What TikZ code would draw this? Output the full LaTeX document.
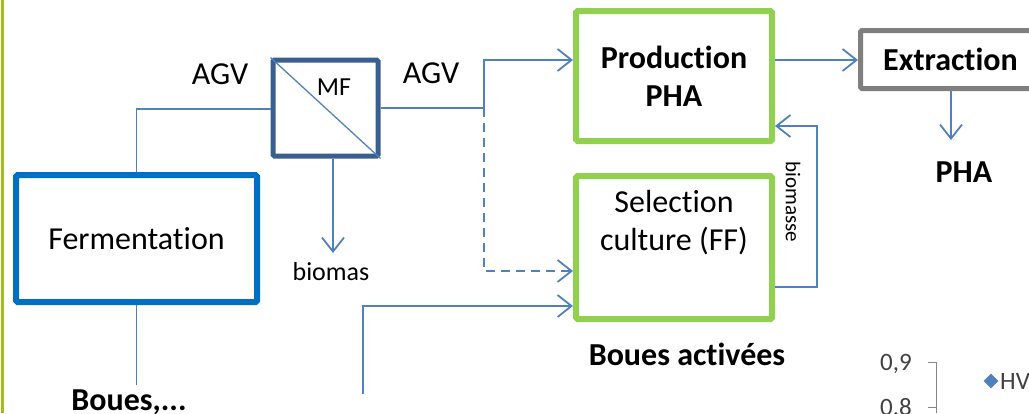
\documentclass[tikz,border=0pt]{standalone}
\usepackage{fontspec}
\setmainfont[RawFeature={-liga}]{Carlito}
\usetikzlibrary{arrows.meta,calc,shapes.geometric}
\definecolor{lineblue}{RGB}{79,129,189}
\definecolor{fermblue}{RGB}{0,112,192}
\definecolor{mfblue}{RGB}{58,94,142}
\definecolor{boxgreen}{RGB}{146,208,80}
\definecolor{boxgray}{RGB}{127,127,127}
\definecolor{barolive}{RGB}{160,190,25}
\definecolor{axisgray}{RGB}{134,134,134}
\definecolor{ticktext}{RGB}{64,64,64}
\tikzset{
  big/.style={font=\fontsize{32}{38}\selectfont},
  bigb/.style={font=\fontsize{32}{38}\selectfont\bfseries},
  small/.style={font=\fontsize{26}{30}\selectfont},
  conn/.style={draw=lineblue, line width=1.6pt},
  arr/.style={conn, -{Straight Barb[length=14pt,width=22pt,line width=1.8pt]}},
  txt/.style={inner sep=0pt, anchor=base},
  procbox/.style={draw, rectangle, rounded corners=1.5pt, inner sep=0pt},
}
\begin{document}
\begin{tikzpicture}[x=1pt,y=-1pt]
\useasboundingbox (0,0) rectangle (1029,413);
\clip (0,0) rectangle (1029,413);
% left bar
\fill[barolive] (0.5,0) rectangle (3.8,413);
% boxes
\node[procbox, draw=fermblue, line width=6pt, minimum width=241pt, minimum height=127pt, big] (ferm) at (136.5,238.5) {Fermentation};
\node[procbox, draw=mfblue, line width=5pt, minimum width=105pt, minimum height=96pt] (mf) at (325.5,108) {};
\draw[lineblue, line width=1.3pt] (mf.north west) -- (mf.south east);
\node[txt, small] (mflab) at (334,95) {MF};
\node[procbox, draw=boxgreen, line width=6pt, minimum width=196pt, minimum height=130pt, bigb, align=center] (prod) at (674,76) {Production\\PHA};
\node[procbox, draw=boxgreen, line width=6pt, minimum width=196pt, minimum height=143pt] (sel) at (674,247.5) {};
\node[txt, big, align=center, anchor=north] (seltext) at (674,190) {Selection\\culture (FF)};
\node[procbox, draw=boxgray, line width=5pt, minimum width=185pt, minimum height=58pt, bigb] (extr) at (953,59.5) {\hspace*{-5pt}Extraction};
% labels
\node[txt, big] (agv1) at (220,84) {AGV};
\node[txt, big] (agv2) at (431,83) {AGV};
\node[txt, small] (biomas) at (331,280) {biomas};
\node[txt, bigb] (pha) at (964,182) {PHA};
\node[txt, bigb] (boues1) at (129,410) {Boues,...};
\node[txt, bigb] (boues2) at (687,365) {Boues activées};
\node[inner sep=0pt, font=\fontsize{21}{24}\selectfont, rotate=-90] (biomasse) at (793,202) {biomasse};
% coordinates
\coordinate (j) at (484,108);
\coordinate (jd) at (484,271);
\coordinate (fbot) at (136.5,385);
\coordinate (fbend) at (136.5,109);
\coordinate (mfout) at (333,253);
\coordinate (phaout) at (951,140);
\coordinate (bin) at (363,394);
\coordinate (fb) at (817,287);
\coordinate (prodout) at ($(prod.east)+(0,-16)$);
\coordinate (prodin) at ($(prod.west)+(0,-16)$);
% connectors
\draw[conn] (ferm.north) -- (fbend) -- (mf.west |- fbend);
\draw[conn] (ferm.south) -- (fbot);
\draw[arr] (mf.east) -- (j) |- (prodin);
\draw[arr, dashed, dash pattern=on 9pt off 6pt] (j) -- (jd) -- (sel.west |- jd);
\draw[arr] ([xshift=7.5pt]mf.south) -- (mfout);
\draw[arr] (prodout) -- (extr.west |- prodout);
\draw[arr] ([xshift=-2pt]extr.south) -- (phaout);
\draw[arr, line width=2.2pt] (bin) |- ([yshift=-58.5pt]sel.west);
\draw[arr] (sel.east |- fb) -- (fb) |- ([yshift=-50pt]prod.east);
% chart fragment
\draw[axisgray, line width=0.8pt] (936,362) -- (936,413);
\draw[axisgray, line width=0.8pt] (928,362) -- (936,362);
\draw[axisgray, line width=0.8pt] (928,407) -- (936,407);
\node[txt, font=\fontsize{25}{28}\selectfont, text=ticktext] (t09) at (896,370) {0,9};
\node[txt, font=\fontsize{25}{28}\selectfont, text=ticktext] (t08) at (896,415) {0,8};
\node[fill=lineblue, diamond, inner sep=0pt, minimum size=15pt] (legmark) at (991,381) {};
\node[inner sep=0pt, anchor=base west, font=\fontsize{25}{28}\selectfont, text=ticktext] (legtext) at (1000,389) {HV};
\end{tikzpicture}
\end{document}
